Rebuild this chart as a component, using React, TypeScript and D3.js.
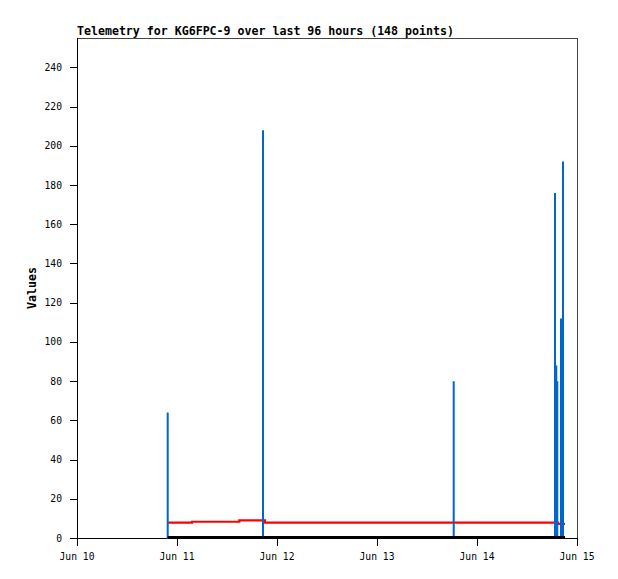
import React from "react";
import * as d3 from "d3";

const W = 618;
const H = 579;
const margin = { left: 77, right: 41, top: 38, bottom: 41 };

const title = "Telemetry for KG6FPC-9 over last 96 hours (148 points)";
const yLabel = "Values";
const yTicks = [0, 20, 40, 60, 80, 100, 120, 140, 160, 180, 200, 220, 240];
const yMax = 255;

// hours after Jun 10 00:00
const redHours = [21.77, 27.6, 38.95, 45.12, 115.44, 117.12];
const redValues = [7.8, 8.3, 9.0, 7.8, 7.2, 7.2];

const blueHours = [21.77, 44.64, 90.41, 114.72, 115.03, 115.27, 116.16, 116.64];
const blueValues = [64, 208, 80, 176, 88, 80, 112, 192];
const blueStart = 21.77;
const blueEnd = 117.12;

const blackHours = [21.77, 117.12];
const blackValues = [0, 0];

const base = new Date(2024, 5, 10, 0, 0, 0);
const toDate = (h: number) => new Date(base.getTime() + h * 3600 * 1000);

export default function App() {
  const x = d3
    .scaleTime()
    .domain([base, new Date(2024, 5, 15, 0, 0, 0)])
    .range([margin.left, W - margin.right]);
  const y = d3.scaleLinear().domain([0, yMax]).range([H - margin.bottom, margin.top]);

  const line = d3
    .line<[number, number]>()
    .x((d) => x(toDate(d[0])))
    .y((d) => y(d[1]));

  const redPts: [number, number][] = redHours.map((h, i) => [h, redValues[i]]);
  const redPath = d3
    .line<[number, number]>()
    .x((d) => x(toDate(d[0])))
    .y((d) => y(d[1]))
    .curve(d3.curveStepAfter)(redPts);

  const bluePts: [number, number][] = [[blueStart, 0]];
  blueHours.forEach((h, i) => {
    bluePts.push([h, 0], [h, blueValues[i]], [h, 0]);
  });
  bluePts.push([blueEnd, 0]);
  const bluePath = line(bluePts);

  const blackPath = line(blackHours.map((h, i) => [h, blackValues[i]] as [number, number]));

  const xTicks = x.ticks(d3.timeDay.every(1) as any);
  const fmt = d3.timeFormat("%b %d");
  const x0 = margin.left;
  const x1 = W - margin.right;
  const y0 = H - margin.bottom;
  const y1 = margin.top;
  const mono = "'DejaVu Sans Mono', monospace";

  return (
    <svg width={W} height={H} style={{ position: "absolute", left: 0, top: 0, background: "#fff" }}>
      <rect x={0} y={0} width={W} height={H} fill="#fff" />
      <text x={x0} y={35} fontFamily={mono} fontWeight="bold" fontSize={11.6} fill="#000">
        {title}
      </text>
      {/* frame */}
      <line x1={x0} x2={x1} y1={y1 + 0.5} y2={y1 + 0.5} stroke="#444" />
      <line x1={x1 + 0.5} x2={x1 + 0.5} y1={y1} y2={y0 + 8} stroke="#444" />
      {/* y axis */}
      <line x1={x0 + 0.5} x2={x0 + 0.5} y1={y1} y2={y0 + 8} stroke="#000" />
      {yTicks.map((t) => (
        <g key={t}>
          <line x1={x0 - 7} x2={x0} y1={Math.round(y(t)) + 0.5} y2={Math.round(y(t)) + 0.5} stroke="#000" />
          <text x={62} y={y(t) + 3.5} textAnchor="end" fontFamily={mono} fontSize={9.7} fill="#000">
            {t}
          </text>
        </g>
      ))}
      {/* x axis */}
      <line x1={x0} x2={x1} y1={y0 + 0.5} y2={y0 + 0.5} stroke="#000" />
      {xTicks.map((t) => (
        <g key={t.getTime()}>
          <line x1={Math.round(x(t)) + 0.5} x2={Math.round(x(t)) + 0.5} y1={y0} y2={y0 + 8} stroke="#000" />
          <text x={x(t)} y={y0 + 22} textAnchor="middle" fontFamily={mono} fontSize={9.7} fill="#000">
            {fmt(t).replace(/ 0/, " ")}
          </text>
        </g>
      ))}
      <text
        transform={`translate(36, ${(y0 + y1) / 2}) rotate(-90)`}
        textAnchor="middle"
        fontFamily={mono}
        fontWeight="bold"
        fontSize={11.6}
        fill="#000"
      >
        {yLabel}
      </text>
      {/* series */}
      <path d={redPath || ""} fill="none" stroke="#ff0000" strokeWidth={2.2} />
      <path d={bluePath || ""} fill="none" stroke="#0066cc" strokeWidth={2} />
      <path d={blackPath || ""} fill="none" stroke="#000" strokeWidth={3} transform="translate(0,-0.5)" />
    </svg>
  );
}
